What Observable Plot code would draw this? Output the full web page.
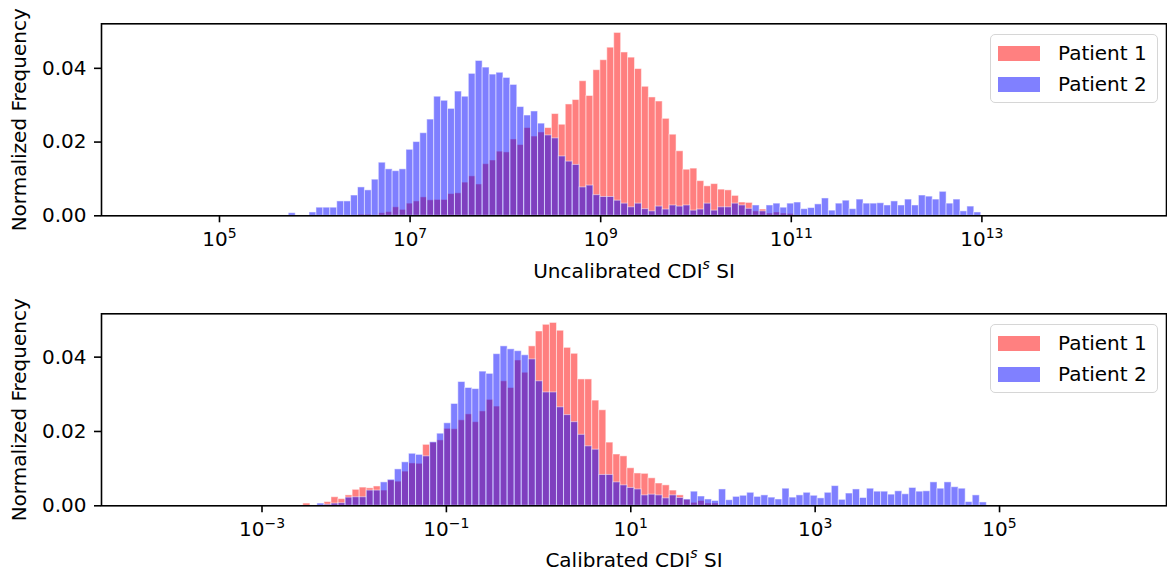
<!DOCTYPE html>
<html>
<head>
<meta charset="utf-8">
<script src="https://cdn.jsdelivr.net/npm/d3@7"></script>
<script src="https://cdn.jsdelivr.net/npm/@observablehq/plot@0.6"></script>
<style>
  body { margin: 0; background: #fff; font-family: "DejaVu Sans", sans-serif; }
  .panel { position: relative; width: 1167px; }
  .panel svg { display: block; }
  .legend {
    position: absolute; left: 990px; width: 168px; height: 69px; box-sizing: border-box;
    border: 1.5px solid #d6d6d6; border-radius: 5px; background: rgba(255,255,255,0.8);
  }
  .legend .row {
    position: absolute; left: 7px; height: 20px; display: flex; align-items: center;
    font-size: 20px; color: #000; white-space: nowrap;
  }
  .legend .sw { width: 42px; height: 15px; margin-right: 18px; }
</style>
</head>
<body>
<div id="chart"></div>
<script>
// Series names and colours
const patients = ["Patient 1", "Patient 2"];
const colors = ["#ff0000", "#0000ff"];

// Histogram bin ranges, as log10 of the outer bin edges (bins are log-spaced)
const uncalBinRange = [5.727, 12.993];
const calBinRange = [-2.552, 4.862];

// Normalized frequencies, uncalibrated CDI^s SI (100 bins)
const uncalP1 = [
  0, 0, 0, 0, 0, 0, 0, 0, 0, 0,
  0.0003, 0.0003, 0, 0.0007, 0.0010, 0.0023, 0.0016, 0.0033, 0.0039, 0.0050,
  0.0042, 0.0043, 0.0043, 0.0059, 0.0061, 0.0090, 0.0107, 0.0085, 0.0140, 0.0150,
  0.0174, 0.0172, 0.0207, 0.0192, 0.0238, 0.0215, 0.0226, 0.0238, 0.0276, 0.0247,
  0.0302, 0.0314, 0.0365, 0.0325, 0.0395, 0.0422, 0.0456, 0.0496, 0.0443, 0.0429,
  0.0398, 0.0350, 0.0321, 0.0310, 0.0263, 0.0220, 0.0175, 0.0125, 0.0128, 0.0094,
  0.0080, 0.0086, 0.0071, 0.0069, 0.0054, 0.0036, 0.0035, 0.0012, 0.0017, 0.0006,
  0.0009, 0.0006, 0.0005, 0, 0, 0, 0, 0, 0, 0,
  0, 0, 0, 0, 0, 0, 0, 0, 0, 0,
  0, 0, 0, 0, 0, 0, 0, 0, 0, 0
];
const uncalP2 = [
  0.0007, 0, 0, 0.0009, 0.0022, 0.0022, 0.0022, 0.0039, 0.0039, 0.0055,
  0.0077, 0.0069, 0.0098, 0.0144, 0.0126, 0.0121, 0.0126, 0.0179, 0.0200, 0.0224,
  0.0261, 0.0323, 0.0312, 0.0290, 0.0337, 0.0323, 0.0385, 0.0420, 0.0402, 0.0383,
  0.0388, 0.0374, 0.0355, 0.0295, 0.0272, 0.0283, 0.0250, 0.0218, 0.0210, 0.0161,
  0.0147, 0.0138, 0.0077, 0.0082, 0.0056, 0.0051, 0.0051, 0.0041, 0.0033, 0.0023,
  0.0033, 0.0018, 0.0012, 0.0025, 0.0017, 0.0028, 0.0025, 0.0028, 0.0014, 0.0017,
  0.0033, 0.0014, 0.0023, 0.0023, 0.0033, 0.0028, 0.0019, 0.0028, 0.0012, 0.0028,
  0.0033, 0.0022, 0.0033, 0.0036, 0.0018, 0.0021, 0.0031, 0.0047, 0.0014, 0.0033,
  0.0041, 0.0018, 0.0044, 0.0033, 0.0033, 0.0034, 0.0028, 0.0039, 0.0028, 0.0044,
  0.0028, 0.0055, 0.0052, 0.0044, 0.0065, 0.0033, 0.0044, 0.0012, 0.0025, 0.0009
];

// Normalized frequencies, calibrated CDI^s SI (97 bins)
const calP1 = [
  0.0006, 0, 0, 0.0010, 0.0023, 0.0018, 0.0028, 0.0043, 0.0049, 0.0047,
  0.0052, 0.0041, 0.0068, 0.0065, 0.0092, 0.0114, 0.0113, 0.0164, 0.0170, 0.0176,
  0.0207, 0.0206, 0.0230, 0.0246, 0.0225, 0.0254, 0.0285, 0.0267, 0.0335, 0.0317,
  0.0391, 0.0358, 0.0429, 0.0469, 0.0487, 0.0492, 0.0471, 0.0425, 0.0409, 0.0340,
  0.0340, 0.0283, 0.0257, 0.0170, 0.0138, 0.0133, 0.0101, 0.0087, 0.0086, 0.0074,
  0.0060, 0.0055, 0.0041, 0.0028, 0.0016, 0.0008, 0.0013, 0.0006, 0.0006, 0,
  0, 0, 0, 0, 0, 0, 0, 0, 0, 0,
  0, 0, 0, 0, 0, 0, 0, 0, 0, 0,
  0, 0, 0, 0, 0, 0, 0, 0, 0, 0,
  0, 0, 0, 0, 0, 0, 0
];
const calP2 = [
  0, 0, 0.0006, 0.0003, 0.0006, 0.0007, 0.0022, 0.0023, 0.0023, 0.0041,
  0.0041, 0.0063, 0.0070, 0.0098, 0.0117, 0.0140, 0.0137, 0.0133, 0.0171, 0.0194,
  0.0222, 0.0274, 0.0333, 0.0317, 0.0314, 0.0361, 0.0355, 0.0408, 0.0429, 0.0421,
  0.0416, 0.0405, 0.0394, 0.0335, 0.0305, 0.0305, 0.0265, 0.0244, 0.0225, 0.0191,
  0.0160, 0.0151, 0.0083, 0.0083, 0.0063, 0.0055, 0.0048, 0.0044, 0.0028, 0.0030,
  0.0028, 0.0020, 0.0028, 0.0021, 0.0017, 0.0038, 0.0025, 0.0017, 0.0013, 0.0044,
  0.0015, 0.0024, 0.0027, 0.0035, 0.0024, 0.0028, 0.0022, 0.0017, 0.0046, 0.0022,
  0.0028, 0.0035, 0.0027, 0.0020, 0.0035, 0.0053, 0.0016, 0.0033, 0.0044, 0.0021,
  0.0046, 0.0038, 0.0038, 0.0030, 0.0039, 0.0031, 0.0048, 0.0038, 0.0039, 0.0063,
  0.0046, 0.0063, 0.0050, 0.0046, 0.0010, 0.0028, 0.0009
];

// Axis ticks
const uncalTicks = [1e5, 1e7, 1e9, 1e11, 1e13];
const calTicks = [1e-3, 1e-1, 1e1, 1e3, 1e5];
const yTicks = [0, 0.02, 0.04];

// Tick text "10^e"; the exponent is turned into a raised tspan after rendering
const pow10 = v => "10^" + String(Math.round(Math.log10(v))).replace("-", "\u2212");

// Turn a bin range and two count arrays into rows with log-spaced bin edges
function histRows([lo, hi], p1, p2) {
  const n = p1.length, w = (hi - lo) / n;
  return p1.map((v, i) => ({x1: 10 ** (lo + i * w), x2: 10 ** (lo + (i + 1) * w), p1: v, p2: p2[i]}));
}

// Rewrite "base^sup rest" texts as base + superscript tspan (+ rest)
function raiseSuperscripts(svg) {
  const NS = "http://www.w3.org/2000/svg";
  svg.querySelectorAll("text").forEach(t => {
    const m = /^(.*?)\^(\S+)(.*)$/.exec(t.textContent);
    if (!m) return;
    const [, pre, sup, post] = m;
    t.textContent = pre;
    const s = document.createElementNS(NS, "tspan");
    s.setAttribute("font-size", "14px");
    s.setAttribute("dy", "-8.4");
    if (/^[a-z]$/.test(sup)) s.setAttribute("font-style", "italic");
    s.textContent = sup;
    t.appendChild(s);
    if (post) {
      const r = document.createElementNS(NS, "tspan");
      r.setAttribute("dy", "8.4");
      r.textContent = post;
      t.appendChild(r);
    }
  });
}

function panel({rows, xDomain, xTicks, xLabel, height, marginBottom, labelOffset}) {
  const ymax = d3.max(rows, d => Math.max(d.p1, d.p2)) * 1.05;
  const bars = (key, color) => Plot.rect(rows.filter(d => d[key] > 0), {
    x1: "x1", x2: "x2", y1: 0, y2: key,
    fill: color, fillOpacity: 0.5, stroke: "white", strokeOpacity: 0.5, strokeWidth: 1
  });
  const svg = Plot.plot({
    width: 1167, height,
    marginTop: 23.3, marginBottom, marginLeft: 101, marginRight: 1,
    style: {fontFamily: "DejaVu Sans", fontSize: "20px", color: "#000", background: "#fff"},
    x: {type: "log", domain: xDomain},
    y: {domain: [0, ymax]},
    marks: [
      bars("p1", colors[0]),
      bars("p2", colors[1]),
      Plot.axisX({ticks: xTicks, tickFormat: pow10, tickSize: 7, tickPadding: 9, strokeWidth: 1.6,
        label: xLabel, labelAnchor: "center", labelArrow: "none", labelOffset}),
      Plot.axisY({ticks: yTicks, tickFormat: d3.format(".2f"), tickSize: 7, tickPadding: 8, strokeWidth: 1.6,
        label: "Normalized Frequency", labelAnchor: "center", labelArrow: "none", labelOffset: 90}),
      Plot.frame({stroke: "#000", strokeWidth: 1.6})
    ]
  });
  raiseSuperscripts(svg);
  const wrap = document.createElement("div");
  wrap.className = "panel";
  wrap.appendChild(svg);
  // legend box in the upper right of the axes
  const legend = document.createElement("div");
  legend.className = "legend";
  legend.style.top = "33.5px";
  patients.forEach((name, i) => {
    const row = document.createElement("div");
    row.className = "row";
    row.style.top = (8.5 + i * 31) + "px";
    const sw = document.createElement("div");
    sw.className = "sw";
    sw.style.background = d3.interpolateRgb("#fff", colors[i])(0.5);
    row.appendChild(sw);
    row.appendChild(document.createTextNode(name));
    legend.appendChild(row);
  });
  wrap.appendChild(legend);
  return wrap;
}

const chart = document.getElementById("chart");
chart.appendChild(panel({
  rows: histRows(uncalBinRange, uncalP1, uncalP2),
  xDomain: [10 ** 3.762, 10 ** 14.937], xTicks: uncalTicks,
  xLabel: "Uncalibrated CDI^s SI", height: 290, marginBottom: 74.7, labelOffset: 61.7
}));
chart.appendChild(panel({
  rows: histRows(calBinRange, calP1, calP2),
  xDomain: [10 ** -4.741, 10 ** 6.811], xTicks: calTicks,
  xLabel: "Calibrated CDI^s SI", height: 284, marginBottom: 68.7, labelOffset: 61
}));
</script>
</body>
</html>
